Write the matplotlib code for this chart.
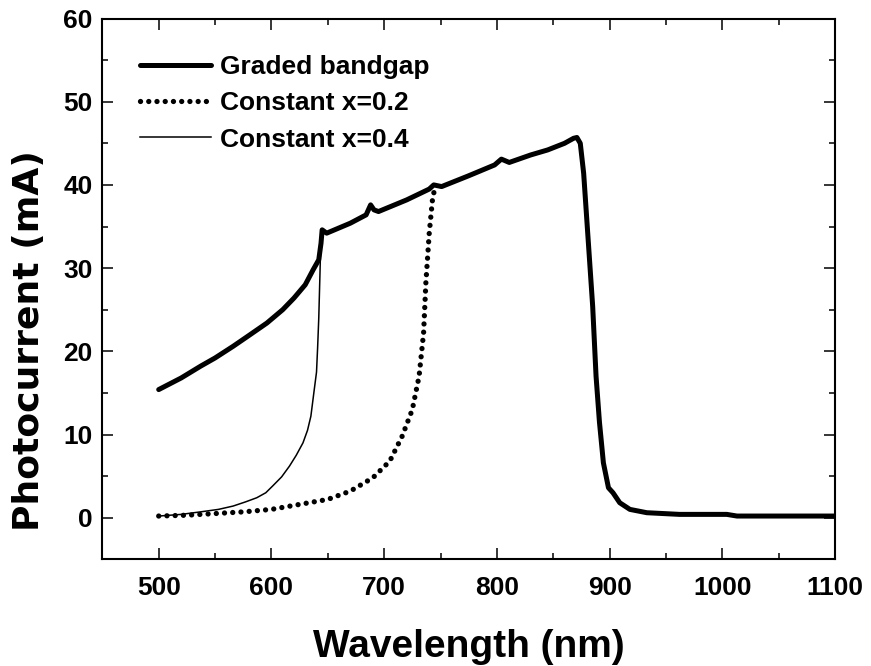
import matplotlib
matplotlib.use("Agg")
import matplotlib.pyplot as plt
from matplotlib.ticker import MultipleLocator

# --- data ---
wl_graded = [500, 510, 520, 537, 550, 566, 580, 596, 610, 620, 630, 637, 642, 644,
             645, 649, 670, 684, 688, 691, 695, 720, 740, 744, 751, 775, 798, 804,
             811, 830, 845, 860, 868, 871, 874, 877, 881, 885, 888, 891, 894.5, 899,
             903, 909, 918, 933, 962, 1004, 1013, 1100]
pc_graded = [15.4, 16.1, 16.8, 18.2, 19.2, 20.6, 21.9, 23.4, 25.0, 26.4, 28.0, 29.8,
             31.0, 33.0, 34.6, 34.2, 35.4, 36.4, 37.6, 37.0, 36.8, 38.2, 39.5, 40.0,
             39.8, 41.1, 42.4, 43.1, 42.7, 43.6, 44.2, 45.0, 45.6, 45.7, 45.0, 41.4,
             33.4, 25.4, 17.0, 11.5, 6.6, 3.6, 3.0, 1.8, 1.0, 0.6, 0.4, 0.4, 0.2, 0.2]

wl_x02 = [500, 525, 550, 575, 600, 625, 650, 670, 690, 705, 716, 725, 731, 735,
          737, 740, 743, 745]
pc_x02 = [0.2, 0.3, 0.5, 0.7, 1.0, 1.6, 2.2, 3.2, 4.8, 6.8, 9.8, 13.0, 17.0, 22.2,
          28.2, 34.2, 38.4, 39.6]

wl_x04 = [500, 520, 537, 553, 566, 577, 587, 595, 601, 609, 616, 622, 628, 632,
          635, 638, 640, 641, 642, 643, 644, 645]
pc_x04 = [0.2, 0.4, 0.7, 1.0, 1.4, 1.9, 2.4, 3.0, 3.8, 4.9, 6.2, 7.5, 9.0, 10.5,
          12.2, 15.4, 17.5, 20.5, 24.0, 29.0, 34.2, 34.5]

labels = ["Graded bandgap", "Constant x=0.2", "Constant x=0.4"]

fig = plt.figure(figsize=(8.71, 6.66), dpi=100)
ax = fig.add_axes([0.1175, 0.1602, 0.8412, 0.812])

ax.plot(wl_graded, pc_graded, color="black", lw=3.6, solid_joinstyle="round",
        solid_capstyle="round", label=labels[0], zorder=3)
ax.plot(wl_x02, pc_x02, color="black", lw=3.8, linestyle=(0, (0.01, 1.55)),
        dash_capstyle="round", label=labels[1])
ax.plot(wl_x04, pc_x04, color="black", lw=1.1, label=labels[2])

ax.set_xlim(450, 1100)
ax.set_ylim(-5, 60)
ax.xaxis.set_major_locator(MultipleLocator(100))
ax.xaxis.set_minor_locator(MultipleLocator(50))
ax.yaxis.set_major_locator(MultipleLocator(10))
ax.yaxis.set_minor_locator(MultipleLocator(5))

ax.tick_params(which="both", direction="in", top=True, right=True, width=1.1)
ax.tick_params(which="major", length=8)
ax.tick_params(which="minor", length=4.3)
ax.tick_params(axis="x", which="major", pad=12)
ax.tick_params(axis="y", which="major", pad=7)
for sp in ax.spines.values():
    sp.set_linewidth(1.5)

for lab in ax.get_xticklabels() + ax.get_yticklabels():
    lab.set_fontfamily("Liberation Sans")
    lab.set_fontweight("bold")
    lab.set_fontsize(19)

ax.set_xlabel("Wavelength (nm)", fontfamily="Liberation Sans", fontweight="bold",
              fontsize=28)
ax.xaxis.set_label_coords(0.5, -0.1807)
ax.xaxis.label.set_va("baseline")

fig.text(0.033, 0.489, "Photocurrent (mA)", rotation=90, ha="center", va="center",
         fontfamily="DejaVu Sans", fontweight="bold", fontsize=26)

ax.legend(loc="upper left", bbox_to_anchor=(0.051, 0.933), frameon=False,
          borderpad=0, borderaxespad=0, handlelength=2.7, handletextpad=0.36,
          labelspacing=0.47, prop={"family": "Liberation Sans", "weight": "bold",
                                   "size": 19})

fig.savefig("out.png", dpi=100)
